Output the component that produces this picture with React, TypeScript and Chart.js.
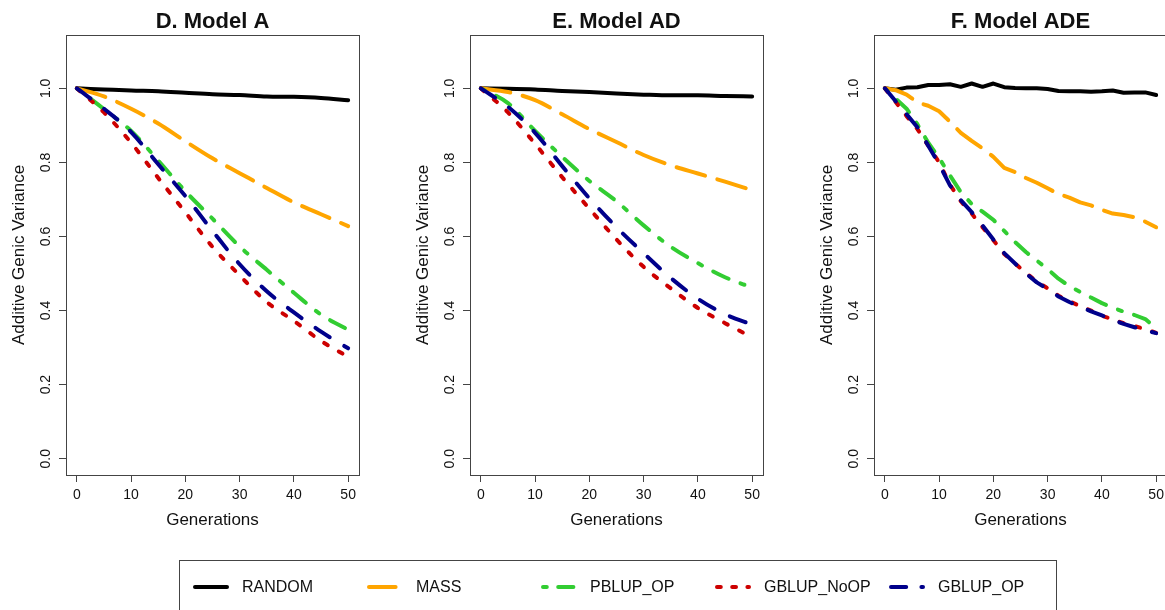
import React, { useEffect, useRef } from "react";
import { Chart, registerables } from "chart.js";

Chart.register(...registerables);
Chart.defaults.font.family = '"Liberation Sans", Arial, sans-serif';

// ---------- data ----------
const GENS_DE = [0, 5, 10, 15, 20, 25, 30, 35, 40, 45, 50];
const GENS_F = [0, 2, 4, 6, 8, 10, 12, 14, 16, 18, 20, 22, 24, 26, 28, 30, 32, 34, 36, 38, 40, 42, 44, 46, 48, 50];

const D_RANDOM = [1.0, 0.997, 0.994, 0.992, 0.988, 0.984, 0.982, 0.978, 0.977, 0.974, 0.968];
const D_MASS = [1.0, 0.978, 0.945, 0.905, 0.857, 0.811, 0.771, 0.731, 0.692, 0.66, 0.628];
const D_PBLUP_OP = [1.0, 0.944, 0.885, 0.805, 0.722, 0.648, 0.573, 0.51, 0.448, 0.389, 0.348];
const D_GBLUP_NOOP = [1.0, 0.935, 0.853, 0.758, 0.665, 0.572, 0.495, 0.423, 0.372, 0.318, 0.275];
const D_GBLUP_OP = [1.0, 0.945, 0.882, 0.795, 0.709, 0.615, 0.525, 0.452, 0.395, 0.343, 0.298];

const E_RANDOM = [1.0, 0.999, 0.997, 0.993, 0.99, 0.986, 0.983, 0.981, 0.981, 0.979, 0.978];
const E_MASS = [1.0, 0.99, 0.968, 0.93, 0.89, 0.855, 0.82, 0.792, 0.77, 0.748, 0.725];
const E_PBLUP_OP = [1.0, 0.96, 0.885, 0.815, 0.75, 0.695, 0.63, 0.572, 0.528, 0.49, 0.462];
const E_GBLUP_NOOP = [1.0, 0.935, 0.85, 0.76, 0.675, 0.592, 0.518, 0.46, 0.407, 0.366, 0.328];
const E_GBLUP_OP = [1.0, 0.95, 0.88, 0.79, 0.703, 0.625, 0.555, 0.488, 0.432, 0.39, 0.362];

const F_RANDOM = [1.0, 0.996, 1.002, 1.003, 1.009, 1.009, 1.011, 1.004, 1.013, 1.004, 1.013, 1.003, 1.001, 1.0, 1.0, 0.998, 0.993, 0.992, 0.992, 0.991, 0.992, 0.994, 0.988, 0.989, 0.989, 0.982];
const F_MASS = [1.0, 0.995, 0.983, 0.962, 0.953, 0.938, 0.91, 0.88, 0.858, 0.838, 0.815, 0.785, 0.774, 0.758, 0.745, 0.73, 0.715, 0.705, 0.692, 0.684, 0.672, 0.662, 0.658, 0.652, 0.64, 0.625];
const F_PBLUP_OP = [1.0, 0.972, 0.945, 0.903, 0.853, 0.812, 0.765, 0.72, 0.688, 0.667, 0.645, 0.615, 0.585, 0.558, 0.535, 0.512, 0.486, 0.466, 0.45, 0.435, 0.42, 0.408, 0.397, 0.388, 0.377, 0.352];
const F_GBLUP_NOOP = [1.0, 0.963, 0.925, 0.89, 0.845, 0.8, 0.74, 0.695, 0.662, 0.625, 0.59, 0.553, 0.527, 0.502, 0.478, 0.46, 0.44, 0.425, 0.412, 0.4, 0.386, 0.376, 0.366, 0.358, 0.35, 0.34];
const F_GBLUP_OP = [1.0, 0.965, 0.93, 0.895, 0.845, 0.795, 0.738, 0.698, 0.666, 0.63, 0.592, 0.555, 0.527, 0.5, 0.476, 0.458, 0.438, 0.423, 0.41, 0.398, 0.387, 0.375, 0.364, 0.355, 0.347, 0.339];

const SERIES_NAMES = ["RANDOM", "MASS", "PBLUP_OP", "GBLUP_NoOP", "GBLUP_OP"];
const X_TICKS = [0, 10, 20, 30, 40, 50];
const Y_TICKS = [0, 0.2, 0.4, 0.6, 0.8, 1.0];
const PANEL_TITLES = ["D. Model A", "E. Model AD", "F. Model ADE"];

// ---------- styles ----------
const SERIES_COLORS = ["#000000", "#FFA500", "#32CD32", "#CD0000", "#00008B"];
const LTY = [[], [7, 3], [1, 3, 4, 3], [1, 3], [4, 4]];
const U = 4.25;
const AXIS_COLOR = "#444";
const TEXT_COLOR = "#111";
const FONT = '"Liberation Sans", Arial, sans-serif';

function framePlugin(title: string) {
  return {
    id: "frame",
    afterDraw(chart: any) {
      const { ctx, chartArea } = chart;
      const { left, right, top, bottom } = chartArea;
      const y = chart.scales.y;
      ctx.save();
      ctx.strokeStyle = AXIS_COLOR;
      ctx.lineWidth = 1;
      ctx.strokeRect(Math.round(left) + 0.5, Math.round(top) + 0.5, Math.round(right - left), Math.round(bottom - top));
      ctx.fillStyle = TEXT_COLOR;
      ctx.font = `14px ${FONT}`;
      ctx.textAlign = "center";
      ctx.textBaseline = "middle";
      Y_TICKS.forEach((v) => {
        const py = y.getPixelForValue(v);
        ctx.save();
        ctx.translate(left - 20, py);
        ctx.rotate(-Math.PI / 2);
        ctx.fillText(v.toFixed(1), 0, 0);
        ctx.restore();
      });
      ctx.font = `bold 22px ${FONT}`;
      ctx.fillText(title, (left + right) / 2, 21.5);
      ctx.restore();
    },
  };
}

function Panel({ left, title, gens, series, smooth }: { left: number; title: string; gens: number[]; series: number[][]; smooth: boolean }) {
  const ref = useRef<HTMLCanvasElement>(null);
  useEffect(() => {
    if (!ref.current) return;
    const gridOpts = { display: true, drawOnChartArea: false, drawTicks: true, tickLength: 7, color: AXIS_COLOR, lineWidth: 1 };
    const chart = new Chart(ref.current, {
      type: "line",
      data: {
        datasets: series.map((vals, i) => ({
          label: SERIES_NAMES[i],
          data: gens.map((g, j) => ({ x: g, y: vals[j] })),
          borderColor: SERIES_COLORS[i],
          backgroundColor: SERIES_COLORS[i],
          borderWidth: 4,
          borderDash: LTY[i].map((d) => d * U),
          borderCapStyle: "round",
          borderJoinStyle: "round",
          pointRadius: 0,
          fill: false,
          cubicInterpolationMode: smooth ? "monotone" : "default",
          tension: 0,
          order: 4 - i,
        })),
      },
      options: {
        animation: false,
        responsive: false,
        maintainAspectRatio: false,
        devicePixelRatio: 1,
        events: [],
        layout: { padding: { left: 0, right: 45, top: 35, bottom: 10 } },
        plugins: { legend: { display: false }, tooltip: { enabled: false }, title: { display: false } },
        scales: {
          x: {
            type: "linear",
            min: -2,
            max: 52,
            afterBuildTicks: (s: any) => {
              s.ticks = X_TICKS.map((v) => ({ value: v }));
            },
            afterFit: (s: any) => {
              s.height = 60;
            },
            grid: gridOpts,
            border: { display: false },
            ticks: { padding: 5, font: { size: 14 }, color: TEXT_COLOR, maxRotation: 0, minRotation: 0, autoSkip: false, callback: (v: any) => String(v) },
            title: { display: true, text: "Generations", font: { size: 17 }, color: TEXT_COLOR, padding: { top: 0, bottom: 4.8 } },
          },
          y: {
            type: "linear",
            min: -0.044,
            max: 1.144,
            afterBuildTicks: (s: any) => {
              s.ticks = Y_TICKS.map((v) => ({ value: v }));
            },
            afterFit: (s: any) => {
              s.width = 66;
            },
            grid: gridOpts,
            border: { display: false },
            ticks: { display: false },
            title: { display: true, text: "Additive Genic Variance", font: { size: 17 }, color: TEXT_COLOR, padding: { top: 9.3, bottom: 0 } },
          },
        },
      },
      plugins: [framePlugin(title)],
    } as any);
    return () => chart.destroy();
  }, []);
  return <canvas ref={ref} width={404} height={545} style={{ position: "absolute", left, top: 0, width: 404, height: 545 }} />;
}

function Legend() {
  const ref = useRef<HTMLCanvasElement>(null);
  useEffect(() => {
    const c = ref.current;
    if (!c) return;
    const ctx = c.getContext("2d");
    if (!ctx) return;
    ctx.clearRect(0, 0, c.width, c.height);
    SERIES_NAMES.forEach((_, i) => {
      const x0 = 16 + 174 * i;
      ctx.save();
      ctx.strokeStyle = SERIES_COLORS[i];
      ctx.lineWidth = 4;
      ctx.lineCap = "round";
      ctx.setLineDash(LTY[i].map((d) => d * 3.8));
      ctx.beginPath();
      ctx.moveTo(x0, 27);
      ctx.lineTo(x0 + 32, 27);
      ctx.stroke();
      ctx.restore();
    });
  }, []);
  return (
    <>
      <div style={{ position: "absolute", left: 179, top: 560, width: 878, height: 60, border: `1px solid ${AXIS_COLOR}`, boxSizing: "border-box" }} />
      <canvas ref={ref} width={880} height={50} style={{ position: "absolute", left: 179, top: 560, width: 880, height: 50 }} />
      {SERIES_NAMES.map((n, i) => (
        <span
          key={n}
          style={{ position: "absolute", left: 242 + 174 * i, top: 577, font: `16px ${FONT}`, lineHeight: "20px", color: TEXT_COLOR, whiteSpace: "nowrap" }}
        >
          {n}
        </span>
      ))}
    </>
  );
}

export default function App() {
  return (
    <div style={{ position: "fixed", left: 0, top: 0, width: 1165, height: 610, overflow: "hidden", background: "#fff" }}>
      <Panel left={0} title={PANEL_TITLES[0]} gens={GENS_DE} series={[D_RANDOM, D_MASS, D_PBLUP_OP, D_GBLUP_NOOP, D_GBLUP_OP]} smooth={true} />
      <Panel left={404} title={PANEL_TITLES[1]} gens={GENS_DE} series={[E_RANDOM, E_MASS, E_PBLUP_OP, E_GBLUP_NOOP, E_GBLUP_OP]} smooth={true} />
      <Panel left={808} title={PANEL_TITLES[2]} gens={GENS_F} series={[F_RANDOM, F_MASS, F_PBLUP_OP, F_GBLUP_NOOP, F_GBLUP_OP]} smooth={false} />
      <Legend />
    </div>
  );
}
